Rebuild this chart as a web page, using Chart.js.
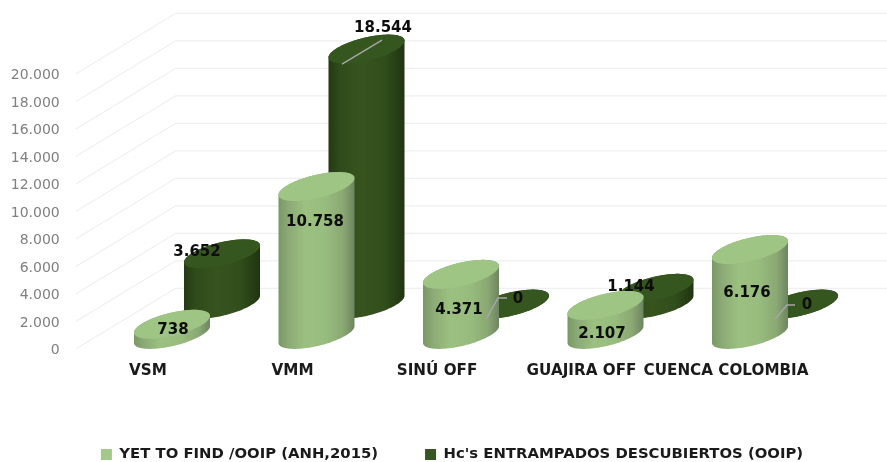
<!DOCTYPE html>
<html><head><meta charset="utf-8">
<style>html,body{margin:0;padding:0;background:#fff}#w{width:887px;height:462px}</style>
<script src="https://cdn.jsdelivr.net/npm/chart.js@4"></script></head>
<body><div id="w"><canvas id="c" width="887" height="462"></canvas></div>
<script>
const categories = ['VSM','VMM','SINÚ OFF','GUAJIRA OFF','CUENCA COLOMBIA'];
const seriesNames = ['YET TO FIND /OOIP (ANH,2015)',"Hc's ENTRAMPADOS DESCUBIERTOS (OOIP)"];
const yetToFind = [738,10758,4371,2107,6176];
const entrampados = [3652,18544,0,1144,0];
const tickMax = 20000, tickStep = 2000;

// style / geometry of the 3-D look, kept apart from the data
const depthX = 100, depthY = 60.7;
const rowDepth = [0.24, 0.74];
const ellipse = {A:31, B:22, C:14.5};
const labelOffsets = [
  [[1,6],[-1.5,36],[-2,36],[-3.5,29],[-3,43.5]],
  [[-25,-2],[16.5,-21],[7,-5],[-24.5,-1.4],[7,1]]
];
const leaders = {
  '1,1':[[-24.5,15],[15.5,-9]],
  '1,2':[[-25,15],[-13,-6],[-4,-6]],
  '1,4':[[-25,15],[-13,1],[-5,1]]
};
const colors = {
  top:['#9fc584','#36561f'],
  grad:[
    [[0,'#7a9866'],[0.14,'#8cab76'],[0.35,'#9bc07f'],[0.62,'#98bc7e'],[0.85,'#8aa873'],[1,'#6d8560']],
    [[0,'#233a14'],[0.15,'#2f4b1b'],[0.45,'#37541f'],[0.75,'#304d1b'],[1,'#203411']]
  ],
  legend:['#a3c98a','#375623']
};
const fmt = v => String(v).replace(/\B(?=(\d{3})+(?!\d))/g,'.');
const FONT = 'DejaVu Sans';

function ellPath(ctx,cx,cy,from,to,first){
  const n=48;
  for(let i=0;i<=n;i++){
    const t=from+(to-from)*i/n;
    const x=cx+ellipse.A*Math.cos(t)+ellipse.B*Math.sin(t);
    const y=cy-ellipse.C*Math.sin(t);
    if(i===0&&first)ctx.moveTo(x,y);else ctx.lineTo(x,y);
  }
}
const tExt=Math.atan2(ellipse.B,ellipse.A); // right-most point parameter

const cyl3d={
  id:'cyl3d',
  afterLayout(chart){
    const l=chart.legend;
    l.left=17; l.right=887;
    l.top=447 - l.options.labels.padding; l.bottom=l.top+l.height;
  },
  beforeDatasetsDraw(chart){
    const {ctx,scales:{x,y}}=chart;
    ctx.save();
    ctx.strokeStyle='#f0f0f0';ctx.lineWidth=1.3;
    y.ticks.forEach(t=>{
      const p=y.getPixelForValue(t.value);
      ctx.beginPath();
      ctx.moveTo(x.left,p);
      ctx.lineTo(x.left+depthX,p-depthY);
      ctx.lineTo(887,p-depthY);
      ctx.stroke();
    });
    ctx.restore();
  },
  beforeDatasetDraw(chart,args){
    const {ctx}=chart;
    const di=args.index, d=rowDepth[di];
    chart.getDatasetMeta(di).data.forEach(el=>{
      const cx=el.x+d*depthX, top=el.y-d*depthY, base=el.base-d*depthY;
      const hw=Math.hypot(ellipse.A,ellipse.B);
      const g=ctx.createLinearGradient(cx-hw,0,cx+hw,0);
      colors.grad[di].forEach(s=>g.addColorStop(s[0],s[1]));
      ctx.beginPath();
      ellPath(ctx,cx,top,tExt+Math.PI,tExt,true);
      ellPath(ctx,cx,base,tExt,tExt-Math.PI,false);
      ctx.closePath();
      ctx.fillStyle=g;ctx.fill();
      ctx.beginPath();
      ellPath(ctx,cx,top,0,Math.PI*2,true);
      ctx.closePath();
      ctx.fillStyle=colors.top[di];ctx.fill();
    });
    return false;
  },
  afterDatasetsDraw(chart){
    const {ctx}=chart;
    ctx.save();
    [1,0].forEach(di=>{
      const d=rowDepth[di];
      chart.getDatasetMeta(di).data.forEach((el,i)=>{
        const cx=el.x+d*depthX, top=el.y-d*depthY;
        const lead=leaders[di+','+i];
        if(lead){
          ctx.beginPath();
          lead.forEach((p,k)=>k?ctx.lineTo(cx+p[0],top+p[1]):ctx.moveTo(cx+p[0],top+p[1]));
          ctx.strokeStyle='#a6a6a6';ctx.lineWidth=1.5;ctx.stroke();
        }
      });
    });
    ctx.font='bold 15px "'+FONT+'"';
    ctx.fillStyle='#0d0d0d';ctx.textAlign='center';ctx.textBaseline='middle';
    [1,0].forEach(di=>{
      const d=rowDepth[di], ds=chart.data.datasets[di];
      chart.getDatasetMeta(di).data.forEach((el,i)=>{
        const cx=el.x+d*depthX, top=el.y-d*depthY, o=labelOffsets[di][i];
        ctx.fillText(fmt(ds.data[i]),cx+o[0],top+o[1]);
      });
    });
    ctx.restore();
  }
};

new Chart(document.getElementById('c'),{
  type:'bar',
  data:{labels:categories,datasets:[
    {label:seriesNames[0],data:yetToFind,backgroundColor:colors.legend[0],grouped:false},
    {label:seriesNames[1],data:entrampados,backgroundColor:colors.legend[1],grouped:false}
  ]},
  plugins:[cyl3d],
  options:{
    responsive:false,animation:false,
    layout:{padding:{left:0,top:74,right:88.75,bottom:0}},
    plugins:{
      tooltip:{enabled:false},
      legend:{position:'bottom',labels:{boxWidth:11,boxHeight:11,padding:47,color:'#1a1a1a',font:{family:FONT,weight:'bold',size:14.85}}}
    },
    scales:{
      x:{
        grid:{display:false},border:{display:false},
        ticks:{autoSkip:false,maxRotation:0,padding:5,color:'#1a1a1a',font:{family:FONT,weight:'bold',size:15.2}},
        afterFit(s){s.height=462-349-s.chart.legend.height;}
      },
      y:{
        min:0,max:tickMax,
        grid:{display:false},border:{display:false},
        ticks:{stepSize:tickStep,padding:8,labelOffset:1.5,color:'#7f7f7f',font:{family:FONT,size:14},callback:v=>fmt(v)},
        afterFit(s){s.width=75.75;}
      }
    }
  }
});
</script></body></html>
